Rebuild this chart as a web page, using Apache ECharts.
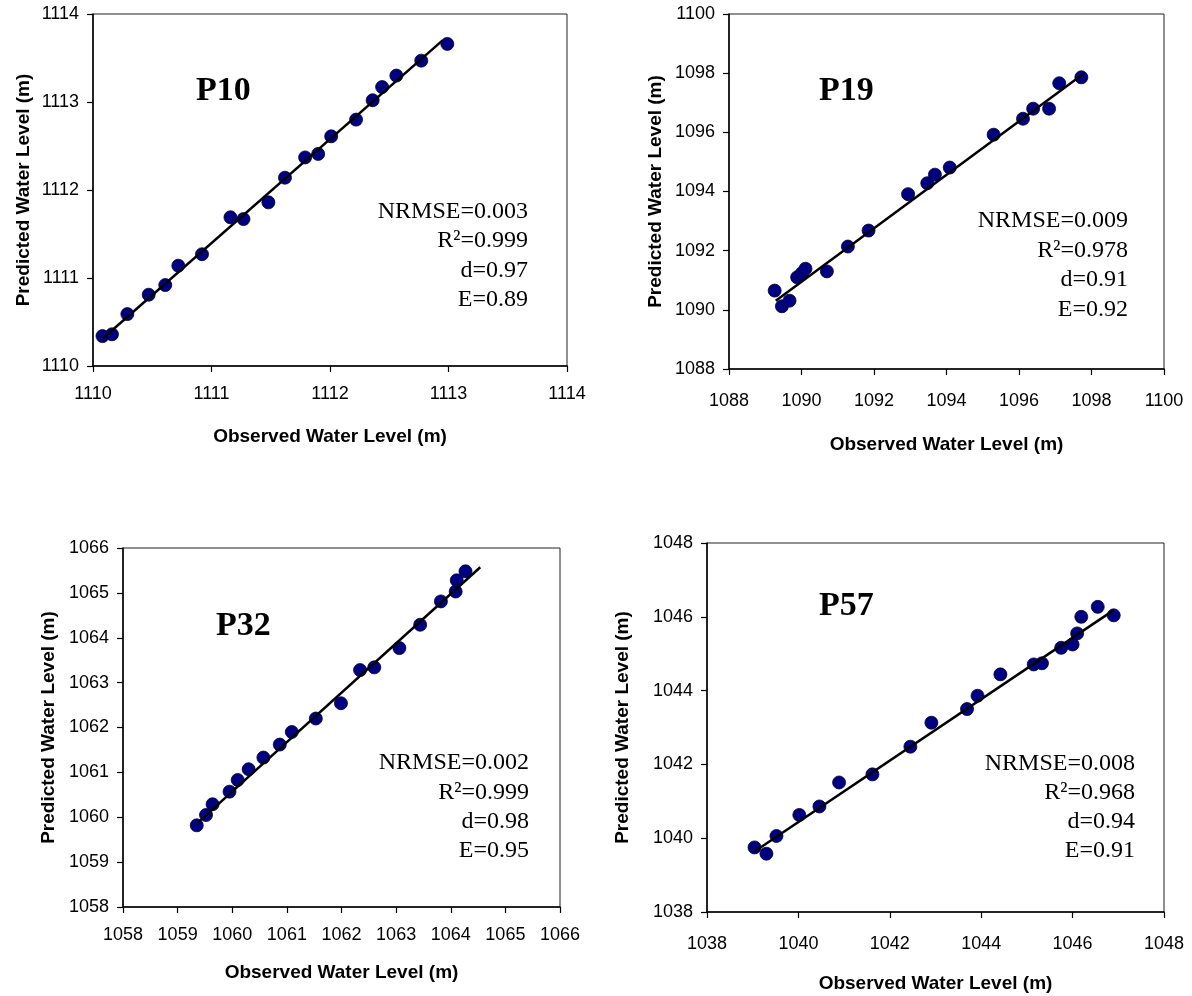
<!DOCTYPE html>
<html>
<head>
<meta charset="utf-8">
<script src="https://cdn.jsdelivr.net/npm/echarts@6/dist/echarts.min.js"></script>
<style>
html,body{margin:0;padding:0;background:#fff;}
#c{width:1192px;height:996px;}
</style>
</head>
<body>
<div id="c"></div>
<script>
// ---- Data ----
const obsP10  = [1110.08,1110.16,1110.29,1110.47,1110.61,1110.72,1110.92,1111.16,1111.27,1111.48,1111.62,1111.79,1111.90,1112.01,1112.22,1112.36,1112.44,1112.56,1112.77,1112.99];
const predP10 = [1110.34,1110.36,1110.59,1110.81,1110.92,1111.14,1111.27,1111.69,1111.67,1111.86,1112.14,1112.37,1112.41,1112.61,1112.80,1113.02,1113.17,1113.30,1113.47,1113.66];
const fitXP10 = [1110.08,1112.95];
const fitYP10 = [1110.31,1113.70];

const obsP19  = [1089.26,1089.46,1089.67,1089.88,1090.01,1090.11,1090.70,1091.28,1091.85,1092.94,1093.47,1093.68,1094.09,1095.30,1096.11,1096.39,1096.83,1097.11,1097.72];
const predP19 = [1090.65,1090.12,1090.31,1091.10,1091.24,1091.39,1091.30,1092.14,1092.68,1093.91,1094.28,1094.57,1094.81,1095.92,1096.46,1096.80,1096.80,1097.66,1097.86];
const fitXP19 = [1089.29,1097.77];
const fitYP19 = [1090.31,1097.97];

const obsP32  = [1059.35,1059.52,1059.64,1059.95,1060.10,1060.30,1060.57,1060.87,1061.09,1061.53,1061.99,1062.34,1062.60,1063.06,1063.44,1063.82,1064.09,1064.11,1064.27];
const predP32 = [1059.82,1060.05,1060.29,1060.57,1060.83,1061.07,1061.33,1061.62,1061.90,1062.20,1062.54,1063.28,1063.34,1063.77,1064.29,1064.81,1065.03,1065.28,1065.48];
const fitXP32 = [1059.37,1064.54];
const fitYP32 = [1059.88,1065.57];

const obsP57  = [1039.04,1039.30,1039.52,1040.02,1040.46,1040.89,1041.62,1042.45,1042.91,1043.69,1043.92,1044.42,1045.15,1045.33,1045.75,1046.00,1046.10,1046.19,1046.55,1046.90];
const predP57 = [1039.75,1039.58,1040.06,1040.63,1040.86,1041.51,1041.73,1042.48,1043.13,1043.50,1043.86,1044.44,1044.71,1044.74,1045.16,1045.25,1045.55,1046.00,1046.27,1046.04];
const fitXP57 = [1039.04,1046.90];
const fitYP57 = [1039.64,1046.18];

// axis ranges [min, max, interval]
const axisP10 = [1110, 1114, 1];
const axisP19 = [1088, 1100, 2];
const axisP32 = [1058, 1066, 1];
const axisP57 = [1038, 1048, 2];

const namesPanels = ['P10','P19','P32','P57'];
const statsP10 = ['NRMSE=0.003','R²=0.999','d=0.97','E=0.89'];
const statsP19 = ['NRMSE=0.009','R²=0.978','d=0.91','E=0.92'];
const statsP32 = ['NRMSE=0.002','R²=0.999','d=0.98','E=0.95'];
const statsP57 = ['NRMSE=0.008','R²=0.968','d=0.94','E=0.91'];
const xTitle = 'Observed Water Level (m)';
const yTitle = 'Predicted Water Level (m)';

// ---- Layout ----
const panels = [
  {obs:obsP10,pred:predP10,fx:fitXP10,fy:fitYP10,ax:axisP10,stats:statsP10,name:namesPanels[0],
   grid:{left:93,top:14,width:474,height:352}, xLM:19, yLM:14, xNG:61, yNG:60,
   title:[196,108], statX:528, statY:[219,248,278,307]},
  {obs:obsP19,pred:predP19,fx:fitXP19,fy:fitYP19,ax:axisP19,stats:statsP19,name:namesPanels[1],
   grid:{left:729,top:14,width:435,height:355}, xLM:23, yLM:14, xNG:66, yNG:64,
   title:[819,108], statX:1128, statY:[228,258,287,317]},
  {obs:obsP32,pred:predP32,fx:fitXP32,fy:fitYP32,ax:axisP32,stats:statsP32,name:namesPanels[2],
   grid:{left:123,top:548,width:437,height:359}, xLM:19, yLM:14, xNG:56, yNG:65,
   title:[216,643], statX:529, statY:[770,800,829,858]},
  {obs:obsP57,pred:predP57,fx:fitXP57,fy:fitYP57,ax:axisP57,stats:statsP57,name:namesPanels[3],
   grid:{left:707,top:543,width:457,height:369}, xLM:23, yLM:14, xNG:62, yNG:75,
   title:[819,623], statX:1135, statY:[771,800,829,858]}
];

const tickFont = {fontFamily:'Liberation Sans, Arial, sans-serif', fontSize:18, color:'#000'};
const nameFont = {fontFamily:'Liberation Sans, Arial, sans-serif', fontSize:19, fontWeight:'bold', color:'#000'};

const option = {
  animation:false,
  backgroundColor:'#fff',
  grid:[], xAxis:[], yAxis:[], series:[], graphic:[]
};

panels.forEach((p,i)=>{
  option.grid.push(Object.assign({show:true, borderColor:'#222', borderWidth:1, backgroundColor:'transparent'}, p.grid));
  const axCommon = {
    type:'value', gridIndex:i, min:p.ax[0], max:p.ax[1], interval:p.ax[2],
    splitLine:{show:false},
    axisLine:{show:true, onZero:false, lineStyle:{color:'#000', width:1.5}},
    axisTick:{show:true, inside:false, length:6, lineStyle:{color:'#000', width:1.2}},
    nameLocation:'middle', nameTextStyle:nameFont
  };
  option.xAxis.push(Object.assign({}, axCommon, {
    name:xTitle, nameGap:p.xNG,
    axisLabel:Object.assign({margin:p.xLM, showMinLabel:true, showMaxLabel:true, formatter:v=>String(v)}, tickFont)
  }));
  option.yAxis.push(Object.assign({}, axCommon, {
    name:yTitle, nameGap:p.yNG, nameRotate:90,
    axisLabel:Object.assign({margin:p.yLM, showMinLabel:true, showMaxLabel:true, formatter:v=>String(v)}, tickFont)
  }));
  option.series.push({
    type:'scatter', xAxisIndex:i, yAxisIndex:i,
    data:p.obs.map((v,k)=>[v,p.pred[k]]),
    symbol:'circle', symbolSize:13,
    itemStyle:{color:'#000080', borderColor:'#000033', borderWidth:0.8, opacity:1},
    z:2
  });
  option.series.push({
    type:'line', xAxisIndex:i, yAxisIndex:i,
    data:p.fx.map((v,k)=>[v,p.fy[k]]),
    symbol:'none', lineStyle:{color:'#000', width:2.5}, z:3, silent:true
  });
  option.graphic.push({
    type:'text', z:10,
    style:{text:p.name, x:p.title[0], y:p.title[1], textAlign:'left', textVerticalAlign:'bottom',
      font:'bold 34px "Liberation Serif", "Times New Roman", serif', fill:'#000'}
  });
  p.stats.forEach((s,k)=>{
    option.graphic.push({
      type:'text', z:10,
      style:{text:s, x:p.statX, y:p.statY[k]+5, textAlign:'right', textVerticalAlign:'bottom',
        font:'24px "Liberation Serif", "Times New Roman", serif', fill:'#000'}
    });
  });
});

const chart = echarts.init(document.getElementById('c'), null, {renderer:'canvas'});
chart.setOption(option);
</script>
</body>
</html>
